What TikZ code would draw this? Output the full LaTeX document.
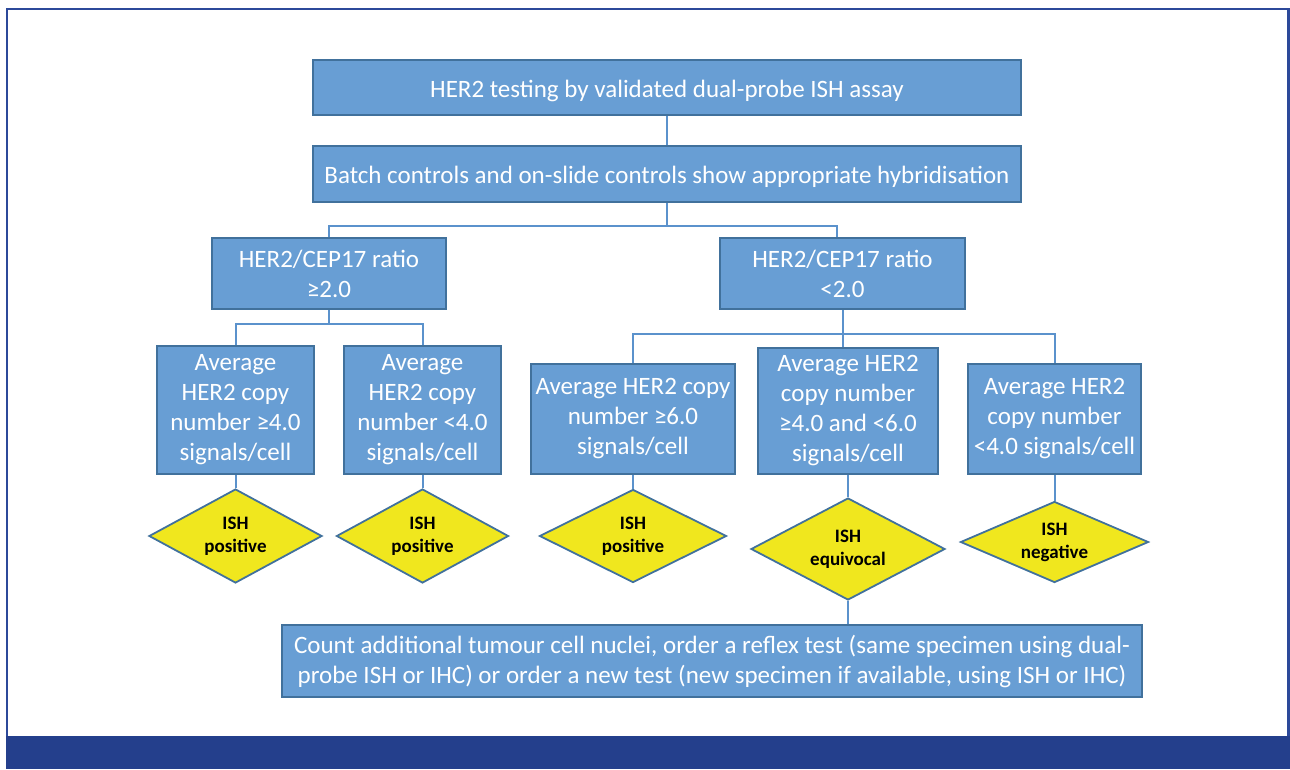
\documentclass[tikz,border=0pt]{standalone}
\usepackage{fontspec}
\setmainfont{Carlito}
\usetikzlibrary{positioning}
\usetikzlibrary{shapes.geometric}
\definecolor{boxfill}{RGB}{104,158,212}
\definecolor{boxline}{RGB}{65,113,156}
\definecolor{linkblue}{RGB}{91,146,204}
\definecolor{ishyellow}{RGB}{240,231,30}
\definecolor{framebl}{RGB}{44,73,154}
\definecolor{bandbl}{RGB}{36,63,140}
\tikzset{box/.style={draw=boxline, fill=boxfill, line width=2pt, text=white, align=center, inner sep=0pt, font=\fontsize{25}{30}\selectfont, execute at begin node={\rule{0pt}{24pt}}}}
\tikzset{result/.style={diamond, draw=boxline, fill=ishyellow, line width=1.8pt, shape aspect=2, inner sep=0pt, align=center, font=\fontsize{19}{23}\selectfont\bfseries, execute at begin node={\rule{0pt}{17pt}}}}
\tikzset{link/.style={draw=linkblue, line width=2pt}}

\begin{document}
\begin{tikzpicture}[x=1pt, y=-1pt, on grid]

        \useasboundingbox (0,0) rectangle (1290,769);

        % frame and bottom band
        \fill[bandbl] (6,736) rectangle (1290,769);
        \draw[framebl, line width=2.2pt] (7,736) |- (1288.5,9) -- (1288.5,736);

        \node[box, minimum width=708pt, minimum height=55pt] (top) at (667,87.5) {HER2 testing by validated dual-probe ISH assay};
        \node[box, minimum width=708pt, minimum height=56pt, below=86.5pt of top] (ctrl) {Batch controls and on-slide controls show appropriate hybridisation};

        \node[box, minimum width=234pt, minimum height=71pt, below left=99.5pt and 338pt of ctrl] (hi) {HER2/CEP17 ratio\\ ≥2.0};
        \node[box, minimum width=245pt, minimum height=71pt, below right=99.5pt and 175.5pt of ctrl] (lo) {HER2/CEP17 ratio\\ <2.0};

        \node[box, minimum width=157pt, minimum height=128pt, below left=136.5pt and 93.5pt of hi] (avgA) {Average\\ HER2 copy\\ number ≥4.0\\ signals/cell};
        \node[box, minimum width=157pt, minimum height=128pt, below right=136.5pt and 93.5pt of hi] (avgB) {Average\\ HER2 copy\\ number <4.0\\ signals/cell};

        \node[box, minimum width=180pt, minimum height=126pt, below right=137.5pt and 5.5pt of lo] (avgD) {Average HER2\\ copy number\\ ≥4.0 and <6.0\\ signals/cell};
        \node[box, minimum width=204pt, minimum height=110pt, left=215pt of avgD, yshift=-8pt] (avgC) {Average HER2 copy\\ number ≥6.0\\ signals/cell};
        \node[box, minimum width=173pt, minimum height=110pt, right=206.5pt of avgD, yshift=-8pt] (avgE) {Average HER2\\ copy number\\ <4.0 signals/cell};

        \node[result, minimum width=173pt, minimum height=94pt, below=126pt of avgA] (dia1) {ISH\\ positive};
        \node[result, minimum width=172pt, minimum height=94pt, below=126pt of avgB] (dia2) {ISH\\ positive};
        \node[result, minimum width=187pt, minimum height=93pt, below=117pt of avgC] (dia3) {ISH\\ positive};
        \node[result, minimum width=194pt, minimum height=102pt, below=138pt of avgD] (dia4) {ISH\\ equivocal};
        \node[result, minimum width=188pt, minimum height=81pt, below=123pt of avgE] (dia5) {ISH\\ negative};

        \node[box, minimum width=860pt, minimum height=72pt, below left=112pt and 136pt of dia4] (count) {Count additional tumour cell nuclei, order a reflex test (same specimen using dual-\\ probe ISH or IHC) or order a new test (new specimen if available, using ISH or IHC)};

        \draw[link] (top) -- (ctrl);

        \draw[link] (ctrl.south) -- ++(0,23) coordinate (split1);
        \draw[link] (hi.north) |- (split1) -| ([xshift=-6pt]lo.north);

        \draw[link] (hi.south) -- ++(0,14) coordinate (split2);
        \draw[link] (avgA.north) |- (split2) -| (avgB.north);

        \draw[link] (lo.south) -- ++(0,24) coordinate (split3);
        \draw[link] (avgC.north) |- (split3) -| (avgE.north);
        \draw[link] (split3) -- (split3 |- avgD.north);

        \draw[link] (avgA) -- (dia1);
        \draw[link] (avgB) -- (dia2);
        \draw[link] (avgC) -- (dia3);
        \draw[link] (avgD) -- (dia4);
        \draw[link] (avgE) -- (dia5);

        \draw[link] (dia4.south) -- (dia4.south |- count.north);
    \end{tikzpicture}
\end{document}
